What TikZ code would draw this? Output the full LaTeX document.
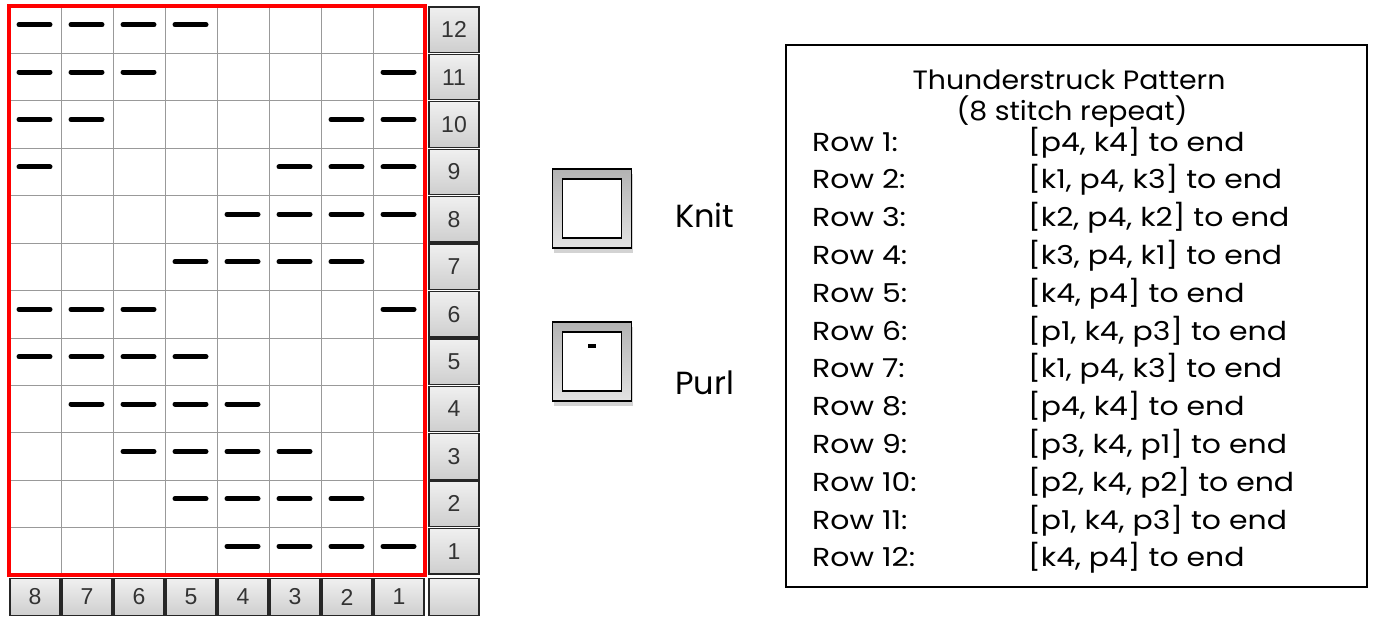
\documentclass[tikz,border=0pt]{standalone}
\usepackage{fontspec}
\setmainfont{Poppins}
\newfontfamily\widefont[FakeStretch=1.15]{Poppins}
\newfontfamily\titlefont[FakeStretch=1.07]{Poppins}
\newfontfamily\chartfont{Liberation Sans}
\usetikzlibrary{positioning, shadows, calc}

\begin{document}
\begin{tikzpicture}[x=1pt, y=-1pt,
    cell/.style={draw=gray!80, line width=0.8pt, minimum width=52pt, minimum height=47.42pt, inner sep=0pt, outer sep=0pt},
    numcell/.style={draw=black!85, line width=1.3pt, top color=gray!12, bottom color=gray!38, inner sep=0pt,
        minimum width=50pt, font=\chartfont\fontsize{23}{23}\selectfont, text=black!80},
    purl/.style={line width=5pt, line cap=round},
    keybox/.style={draw=black, line width=1.5pt, top color=gray!60, bottom color=gray!22, minimum size=79pt,
        drop shadow={shadow xshift=1pt, shadow yshift=-5pt, opacity=0.35}},
    keyinner/.style={draw=black, line width=1.5pt, fill=white, minimum size=59pt},
    keylabel/.style={anchor=base west, inner sep=0pt, font=\fontsize{32}{32}\selectfont},
    titletext/.style={anchor=base, inner sep=0pt, font=\titlefont\fontsize{26.5}{26.5}\selectfont},
    rowtext/.style={anchor=base west, inner sep=0pt, font=\widefont\fontsize{26}{26}\selectfont}]
\useasboundingbox (0,0) rectangle (1374,621);

% chart grid, stitch 1 on the right
\foreach \r in {1,...,12}
  \foreach \c in {1,...,8}
    \node[cell] (c-\c-\r) at ({425-52*(\c-0.5)}, {575-47.42*(\r-0.5)}) {};

% purl stitches
\foreach \r/\list in {1/{1,2,3,4}, 2/{2,3,4,5}, 3/{3,4,5,6}, 4/{4,5,6,7}, 5/{5,6,7,8}, 6/{1,6,7,8},
    7/{2,3,4,5}, 8/{1,2,3,4}, 9/{1,2,3,8}, 10/{1,2,7,8}, 11/{1,6,7,8}, 12/{5,6,7,8}}
  \foreach \c in \list
    \draw[purl] ($(c-\c-\r.center)+(-16,-5)$) -- ($(c-\c-\r.center)+(15,-5)$);

\draw[red, line width=4pt] (c-8-12.north west) rectangle (c-1-1.south east);

% row numbers and stitch numbers
\foreach \r in {1,...,12}
  \node[numcell, minimum height=45.5pt] (n-\r) at (454, {575-47.42*(\r-0.5)}) {\r};
\foreach \c in {1,...,8}
  \node[numcell, minimum height=37pt] (s-\c) at ({425-52*(\c-0.5)}, 597) {\c};
\node[numcell, minimum height=37pt] (corner) at (454, 597) {};

% key
\node[keybox] (knit) at (592, 208.5) {};
\node[keyinner] (knitin) at (knit.center) {};
\node[keybox] (purlbox) at (592, 361.5) {};
\node[keyinner] (purlin) at (purlbox.center) {};
\draw[line width=4pt] ($(purlin.north)+(-4,15)$) -- ($(purlin.north)+(4,15)$);
\node[keylabel] (knitlbl) at (675, 227) {Knit};
\node[keylabel] (purllbl) at (675, 394) {Purl};

% written pattern
\draw[line width=1.5pt] (786,45) rectangle (1367,587);
\node[titletext] (title) at (1069, 89) {Thunderstruck Pattern};
\node[titletext] (repeat) at (1072, 120) {(8 stitch repeat)};
\foreach \r/\txt in {1/{[p4, k4] to end}, 2/{[k1, p4, k3] to end}, 3/{[k2, p4, k2] to end},
    4/{[k3, p4, k1] to end}, 5/{[k4, p4] to end}, 6/{[p1, k4, p3] to end}, 7/{[k1, p4, k3] to end},
    8/{[p4, k4] to end}, 9/{[p3, k4, p1] to end}, 10/{[p2, k4, p2] to end}, 11/{[p1, k4, p3] to end},
    12/{[k4, p4] to end}}
{
  \node[rowtext] (row-\r) at (812, {151+37.8*(\r-1)}) {Row \r:};
  \node[rowtext] (inst-\r) at (1028, {151+37.8*(\r-1)}) {\txt};
}
\end{tikzpicture}
\end{document}
